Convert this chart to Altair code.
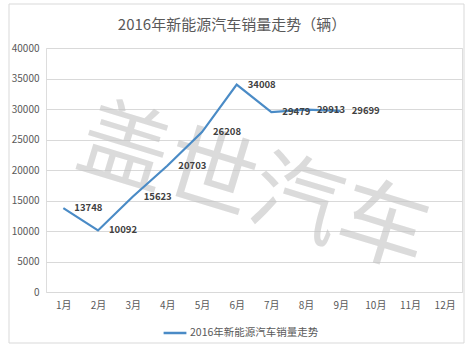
import altair as alt
import pandas as pd

months = ["1月", "2月", "3月", "4月", "5月", "6月", "7月", "8月", "9月", "10月", "11月", "12月"]
sales = [13748, 10092, 15623, 20703, 26208, 34008, 29479, 29913, 29699]
series_name = "2016年新能源汽车销量走势"
title_text = "2016年新能源汽车销量走势（辆）"
watermark = "盖世汽车"
y_ticks = [0, 5000, 10000, 15000, 20000, 25000, 30000, 35000, 40000]

FONT = "Noto Sans CJK SC"
LINE_COLOR = "#4a8bc6"

df = pd.DataFrame({"month": months[:len(sales)], "sales": sales, "series": series_name})
one = pd.DataFrame({"k": [0]})

x_enc = alt.X(
    "month:N",
    sort=months,
    scale=alt.Scale(domain=months),
    axis=alt.Axis(title=None, labelAngle=0, domain=False, ticks=False, grid=False,
                  labelPadding=8, labelColor="#595959", labelFontSize=10, labelFont=FONT),
)
y_enc = alt.Y(
    "sales:Q",
    scale=alt.Scale(domain=[0, 40000], nice=False),
    axis=alt.Axis(title=None, values=y_ticks, format="d", labelOverlap=False, domain=False,
                  ticks=False, grid=True, gridColor="#d9d9d9", gridWidth=1, labelPadding=7,
                  labelColor="#595959", labelFontSize=10, labelFont=FONT),
)

border = alt.Chart(one).mark_rect(fill=None, stroke="#d9d9d9", strokeWidth=1).encode(
    x=alt.value(-37), x2=alt.value(418), y=alt.value(-44), y2=alt.value(295)
)

title = alt.Chart(one).mark_text(
    fontSize=15, color="#595959", font=FONT, align="center", baseline="middle"
).encode(x=alt.value(186), y=alt.value(-23), text=alt.value(title_text))

wm = alt.Chart(one).mark_text(
    angle=17, fontSize=90, color="#c4c4c4", opacity=0.6, font=FONT, align="center", baseline="middle"
).encode(x=alt.value(207), y=alt.value(142), text=alt.value(watermark))

line = alt.Chart(df).mark_line(strokeWidth=2.2).encode(
    x=x_enc,
    y=y_enc,
    color=alt.Color(
        "series:N",
        scale=alt.Scale(range=[LINE_COLOR]),
        legend=alt.Legend(
            title=None, orient="none", legendX=116, legendY=272, symbolType="stroke",
            symbolSize=520, symbolStrokeWidth=2.5, labelFontSize=10.5, labelFont=FONT,
            labelColor="#595959", labelOffset=2,
        ),
    ),
)

labels = alt.Chart(df).mark_text(
    align="left", baseline="middle", dx=11, fontSize=9.5, fontWeight="bold", color="#404040", font=FONT
).encode(x=x_enc, y=y_enc, text="sales:Q")

chart = alt.layer(border, title, wm, line, labels).properties(
    width=416,
    height=244,
    autosize=alt.AutoSizeParams(type="none"),
    padding={"left": 46, "top": 48, "right": 12, "bottom": 60},
).configure_view(stroke=None).configure(background="white")

chart.save("out.html", embed_options={"renderer": "svg", "actions": False})
